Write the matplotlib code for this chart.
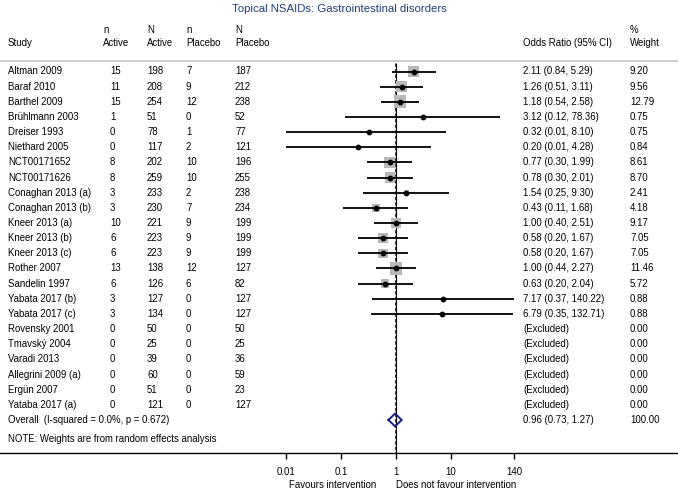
import numpy as np
import matplotlib
matplotlib.use("Agg")
import matplotlib.pyplot as plt
from matplotlib.transforms import blended_transform_factory

plt.rcParams["font.family"] = ["Liberation Sans", "DejaVu Sans"]

# data
studies = [
    "Altman 2009", "Baraf 2010", "Barthel 2009", "Brühlmann 2003", "Dreiser 1993",
    "Niethard 2005", "NCT00171652", "NCT00171626", "Conaghan 2013 (a)",
    "Conaghan 2013 (b)", "Kneer 2013 (a)", "Kneer 2013 (b)", "Kneer 2013 (c)",
    "Rother 2007", "Sandelin 1997", "Yabata 2017 (b)", "Yabata 2017 (c)",
    "Rovensky 2001", "Tmavský 2004", "Varadi 2013", "Allegrini 2009 (a)",
    "Ergün 2007", "Yataba 2017 (a)",
]
n_active = [15, 11, 15, 1, 0, 0, 8, 8, 3, 3, 10, 6, 6, 13, 6, 3, 3, 0, 0, 0, 0, 0, 0]
N_active = [198, 208, 254, 51, 78, 117, 202, 259, 233, 230, 221, 223, 223, 138,
            126, 127, 134, 50, 25, 39, 60, 51, 121]
n_placebo = [7, 9, 12, 0, 1, 2, 10, 10, 2, 7, 9, 9, 9, 12, 6, 0, 0, 0, 0, 0, 0, 0, 0]
N_placebo = [187, 212, 238, 52, 77, 121, 196, 255, 238, 234, 199, 199, 199, 127,
             82, 127, 127, 50, 25, 36, 59, 23, 127]
odds_ratio = [2.11, 1.26, 1.18, 3.12, 0.32, 0.20, 0.77, 0.78, 1.54, 0.43, 1.00,
              0.58, 0.58, 1.00, 0.63, 7.17, 6.79]
ci_low = [0.84, 0.51, 0.54, 0.12, 0.01, 0.01, 0.30, 0.30, 0.25, 0.11, 0.40,
          0.20, 0.20, 0.44, 0.20, 0.37, 0.35]
ci_high = [5.29, 3.11, 2.58, 78.36, 8.10, 4.28, 1.99, 2.01, 9.30, 1.68, 2.51,
           1.67, 1.67, 2.27, 2.04, 140.22, 132.71]
weights = [9.20, 9.56, 12.79, 0.75, 0.75, 0.84, 8.61, 8.70, 2.41, 4.18, 9.17,
           7.05, 7.05, 11.46, 5.72, 0.88, 0.88, 0.00, 0.00, 0.00, 0.00, 0.00, 0.00]
overall_or = 0.96
overall_ci = (0.73, 1.27)
overall_label = "Overall  (I-squared = 0.0%, p = 0.672)"
axis_ticks = [0.01, 0.1, 1, 10, 140]
tick_labels = ["0.01", "0.1", "1", "10", "140"]

W, H = 678, 492
FS = 6.9
ROW0, STEP = 71.5, 15.15  # pixel y of first row, row spacing


def row_of(py):
    return (py - ROW0) / STEP


fig = plt.figure(figsize=(W / 100, H / 100), dpi=100)
axis_px = 453
ax = fig.add_axes([0, (H - axis_px) / H, 1, axis_px / H])
ax.set_xscale("log")
ax.set_xlim(10 ** (-396 / 55), 10 ** ((W - 396) / 55))
ax.set_ylim(row_of(axis_px), row_of(0))
for s in ["top", "left", "right"]:
    ax.spines[s].set_visible(False)
ax.spines["bottom"].set_linewidth(1.0)
ax.set_yticks([])
ax.set_xticks(axis_ticks)
ax.set_xticklabels(tick_labels, fontsize=FS)
ax.minorticks_off()
ax.tick_params(axis="x", direction="out", length=4, width=1.0, pad=6)

tr = blended_transform_factory(ax.transAxes, ax.transData)

def col(px):
    return px / W

# title and header
ax.text(0.5, row_of(9), "Topical NSAIDs: Gastrointestinal disorders",
        transform=tr, ha="center", va="center", fontsize=8.2, color="#1f3f74")
header_rows = [row_of(30), row_of(43.5)]
ax.text(col(8), header_rows[1], "Study", transform=tr, va="center", fontsize=FS)
for px, top, bottom in [(103, "n", "Active"), (147, "N", "Active"),
                        (186, "n", "Placebo"), (235, "N", "Placebo"),
                        (630, "%", "Weight")]:
    ax.text(col(px), header_rows[0], top, transform=tr, va="center", fontsize=FS)
    ax.text(col(px), header_rows[1], bottom, transform=tr, va="center", fontsize=FS)
ax.text(col(523), header_rows[1], "Odds Ratio (95% CI)", transform=tr,
        va="center", fontsize=FS)
line_row = row_of(61)
ax.axhline(line_row, color="#c4c4c4", lw=1.2)

# reference lines
ax.vlines(1, line_row + 0.1, row_of(axis_px), color="black", lw=0.8, zorder=1)
ax.vlines(overall_or, line_row + 0.1, row_of(axis_px), color="#8b1c1c", lw=0.8,
          linestyles=(0, (3, 2)), zorder=2)

# study rows
for i, name in enumerate(studies):
    ax.text(col(8), i, name, transform=tr, va="center", fontsize=FS)
    ax.text(col(110), i, str(n_active[i]), transform=tr, va="center", fontsize=FS)
    ax.text(col(147), i, str(N_active[i]), transform=tr, va="center", fontsize=FS)
    ax.text(col(186), i, str(n_placebo[i]), transform=tr, va="center", fontsize=FS)
    ax.text(col(235), i, str(N_placebo[i]), transform=tr, va="center", fontsize=FS)
    if i < len(odds_ratio):
        txt = f"{odds_ratio[i]:.2f} ({ci_low[i]:.2f}, {ci_high[i]:.2f})"
    else:
        txt = "(Excluded)"
    ax.text(col(523), i, txt, transform=tr, va="center", fontsize=FS)
    ax.text(col(630), i, f"{weights[i]:.2f}", transform=tr, va="center", fontsize=FS)

k = len(odds_ratio)
rows = np.arange(k)
sides = 3.6 * np.sqrt(np.array(weights[:k])) * 0.72
ax.scatter(odds_ratio, rows, marker="s", s=sides ** 2, color="#b8b8b8",
           edgecolors="none", zorder=3)
ax.hlines(rows, ci_low, ci_high, color="black", lw=1.3, zorder=4)
ax.scatter(odds_ratio, rows, s=10, color="black", zorder=5)

# overall
r = len(studies)
ax.text(col(8), r, overall_label, transform=tr, va="center", fontsize=FS)
ax.text(col(523), r, f"{overall_or:.2f} ({overall_ci[0]:.2f}, {overall_ci[1]:.2f})",
        transform=tr, va="center", fontsize=FS)
ax.text(col(630), r, "100.00", transform=tr, va="center", fontsize=FS)
dx = [overall_ci[0], overall_or, overall_ci[1], overall_or, overall_ci[0]]
dy = [r, r - 0.42, r, r + 0.42, r]
ax.plot(dx, dy, color="#1c1f7e", lw=1.4, zorder=6, solid_joinstyle="miter")

ax.text(col(8), row_of(439), "NOTE: Weights are from random effects analysis",
        transform=tr, va="center", fontsize=FS)

bt = blended_transform_factory(ax.transData, ax.transAxes)
ax.annotate("Favours intervention", xy=(1, 0), xycoords=bt, xytext=(-14, -23),
            textcoords="offset points", ha="right", va="center", fontsize=FS)
ax.annotate("Does not favour intervention", xy=(1, 0), xycoords=bt, xytext=(0, -23),
            textcoords="offset points", ha="left", va="center", fontsize=FS)

fig.savefig("out.png", dpi=100)
